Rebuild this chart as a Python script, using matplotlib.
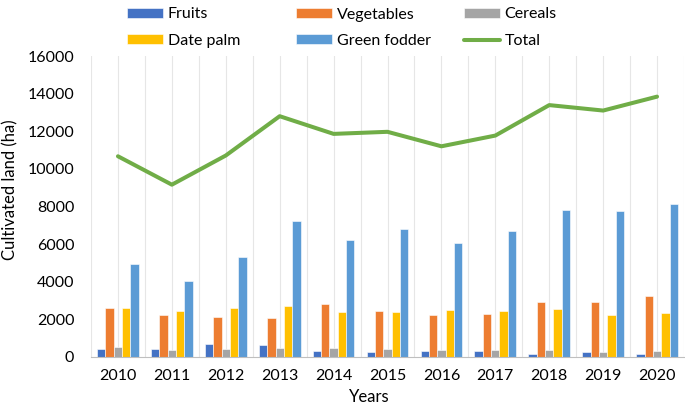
import numpy as np
import matplotlib
matplotlib.use('Agg')
import matplotlib.pyplot as plt

years = ['2010', '2011', '2012', '2013', '2014', '2015', '2016', '2017', '2018', '2019', '2020']
fruits = [400, 440, 670, 650, 300, 280, 340, 320, 180, 240, 180]
vegetables = [2610, 2240, 2110, 2090, 2800, 2450, 2240, 2270, 2900, 2950, 3250]
cereals = [530, 370, 400, 500, 500, 400, 390, 370, 350, 240, 320]
date_palm = [2590, 2470, 2590, 2720, 2400, 2400, 2500, 2450, 2540, 2250, 2330]
green_fodder = [4950, 4030, 5310, 7230, 6240, 6800, 6080, 6720, 7800, 7770, 8140]
total = [10670, 9160, 10710, 12800, 11860, 11970, 11200, 11770, 13390, 13100, 13840]

series = [('Fruits', fruits, '#4472C4'),
          ('Vegetables', vegetables, '#ED7D31'),
          ('Cereals', cereals, '#A5A5A5'),
          ('Date palm', date_palm, '#FFC000'),
          ('Green fodder', green_fodder, '#5B9BD5')]

plt.rcParams['font.family'] = ['Lato', 'DejaVu Sans']

fig = plt.figure(figsize=(6.85, 4.04), dpi=100)
ax = fig.add_axes([91 / 685, 1 - 357 / 404, 593 / 685, 301 / 404])

x = np.arange(len(years))
width = 0.155
handles = {}
for i, (name, vals, color) in enumerate(series):
    h = ax.bar(x + (i - 2) * width, vals, width, color=color,
               edgecolor='white', linewidth=0.4, zorder=2, label=name)
    handles[name] = h
line, = ax.plot(x, total, color='#70AD47', linewidth=2.9, zorder=3,
                solid_capstyle='round', label='Total')
handles['Total'] = line

ax.set_xlim(-0.5, len(years) - 0.5)
ax.set_ylim(0, 16000)
ax.set_yticks(np.arange(0, 16001, 2000))
ax.set_xticks(x)
ax.set_xticklabels(years)
for gx in np.arange(-0.5, len(years), 0.5):
    ax.axvline(gx, color='#E6E6E6', linewidth=0.8, zorder=0)

for s in ['top', 'right', 'left']:
    ax.spines[s].set_visible(False)
ax.spines['bottom'].set_color('#BFBFBF')
ax.tick_params(axis='both', length=0, labelsize=11.5, colors='black')
ax.tick_params(axis='y', pad=12)
ax.tick_params(axis='x', pad=9)

ax.set_ylabel('Cultivated land (ha)', fontsize=12)
ax.yaxis.set_label_coords(-0.122, 0.555)
ax.set_xlabel('Years', fontsize=12)
ax.xaxis.set_label_coords(0.47, -0.106)

# one legend per column so the columns sit at even spacing like the original
columns = [(['Fruits', 'Date palm'], 127), (['Vegetables', 'Green fodder'], 296),
           (['Cereals', 'Total'], 464)]
for names, xpos in columns:
    fig.legend([handles[k] for k in names], names, loc='upper left',
               bbox_to_anchor=(xpos / 685, 1 - 7.5 / 404), frameon=False,
               fontsize=11.5, handlelength=2.25, handleheight=0.56,
               handletextpad=0.3, labelspacing=0.78, borderpad=0,
               borderaxespad=0)

fig.savefig('out.png', dpi=100)
